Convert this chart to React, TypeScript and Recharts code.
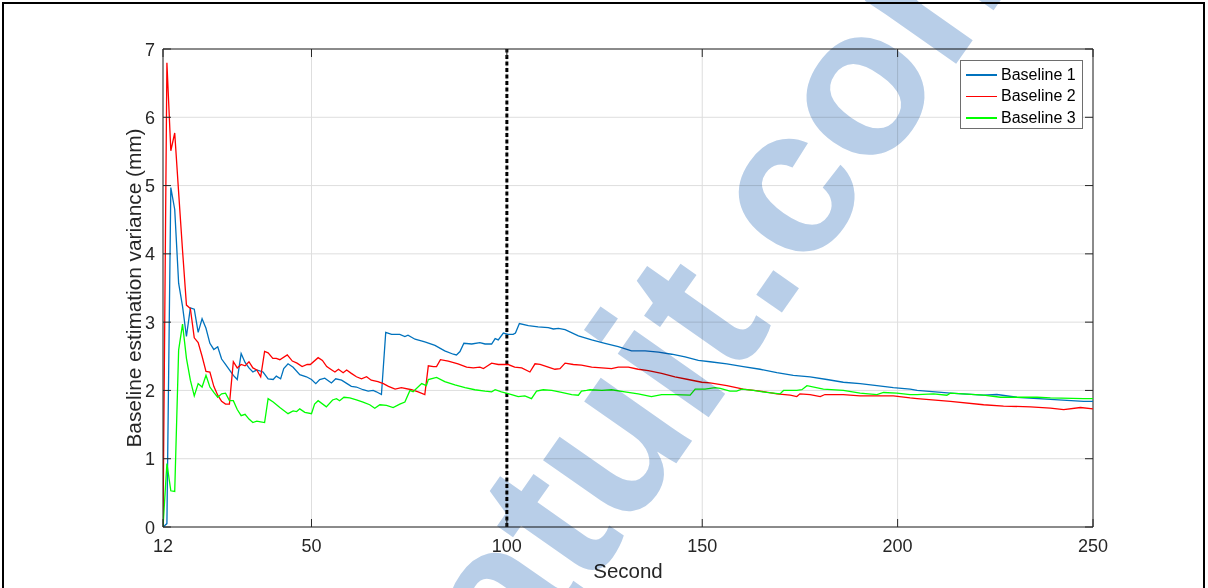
import { LineChart, Line, XAxis, YAxis, CartesianGrid, ReferenceLine } from 'recharts';

// time stamps (s) and values (mm), one pair of arrays per baseline
const b1Time = [12, 13, 14, 15, 16, 17, 18, 19, 20, 21, 22, 23, 24, 25, 26, 27, 28, 29, 30, 31, 32, 33, 34, 35, 36, 37.6, 38.9, 40.2, 41, 42.1, 42.9, 44, 45.3, 47, 48.7, 50, 51.1, 52.1, 53.4, 55.1, 56.2, 57.7, 59.1, 60.2, 61.5, 63.2, 64.5, 65.8, 66.6, 67.9, 69, 70.5, 72.6, 73.9, 74.7, 76.5, 79, 81.6, 84.1, 86.3, 87.1, 88, 89, 91, 93.1, 94.4, 96.1, 97, 97.8, 99.1, 100.3, 101.6, 102.2, 103.2, 105.5, 108, 110.6, 111.9, 113.2, 114.9, 118.3, 121.7, 125.1, 128.5, 131.9, 135.4, 138.8, 142.2, 145.6, 149, 152, 156.3, 160.5, 164.8, 169.1, 173.3, 177.6, 181.9, 186.1, 190.4, 194.7, 198.9, 203.2, 205, 213.5, 222, 225.4, 230.5, 239.1, 247.6, 250];
const b1Value = [0, 0.05, 4.97, 4.65, 3.57, 3.23, 2.79, 3.21, 3.19, 2.85, 3.05, 2.91, 2.69, 2.6, 2.64, 2.46, 2.38, 2.3, 2.22, 2.16, 2.54, 2.41, 2.33, 2.27, 2.3, 2.27, 2.17, 2.16, 2.21, 2.17, 2.32, 2.39, 2.34, 2.23, 2.2, 2.16, 2.1, 2.16, 2.18, 2.11, 2.17, 2.15, 2.1, 2.06, 2.05, 2.01, 1.99, 2.0, 1.98, 1.94, 2.85, 2.82, 2.82, 2.79, 2.81, 2.75, 2.71, 2.66, 2.58, 2.53, 2.52, 2.57, 2.69, 2.68, 2.7, 2.68, 2.68, 2.76, 2.74, 2.84, 2.82, 2.82, 2.84, 2.98, 2.95, 2.93, 2.92, 2.9, 2.91, 2.89, 2.8, 2.74, 2.69, 2.64, 2.58, 2.58, 2.56, 2.53, 2.49, 2.44, 2.42, 2.39, 2.35, 2.31, 2.26, 2.22, 2.2, 2.16, 2.12, 2.1, 2.07, 2.04, 2.02, 2.0, 1.96, 1.93, 1.94, 1.9, 1.87, 1.84, 1.84];

const b2Time = [12, 13, 14, 15, 16, 17, 18, 19, 20, 21, 22, 23, 24, 25, 26, 27, 28, 29, 30, 31, 32, 33, 34, 35, 36, 37, 38, 38.9, 40.1, 41, 41.9, 43.8, 45.1, 46.3, 47.6, 48.9, 49.7, 51.7, 52.8, 53.9, 55.2, 56, 56.9, 58.1, 59, 60.2, 61.5, 62.8, 64.1, 65.3, 67, 68.4, 69.7, 71.4, 73, 75.6, 77.3, 79, 79.9, 81.2, 82, 83, 85, 87.5, 89.7, 91.4, 93.1, 94, 94.8, 96.1, 97.8, 100.3, 102, 103.8, 105.9, 107.2, 108.5, 110.6, 112.3, 113.6, 114.9, 117, 119.1, 121.7, 124.3, 126.8, 128.5, 131.1, 133.6, 136.2, 139.6, 143, 146.4, 149.9, 152, 156.3, 160.5, 164.8, 169.1, 172.5, 174.2, 175, 177.6, 180.2, 181.4, 186.1, 190.4, 194.7, 198.9, 203.2, 205, 213.5, 222, 227.1, 234, 239.1, 242.5, 246.8, 250];
const b2Value = [0, 6.8, 5.51, 5.77, 4.9, 4.05, 3.25, 3.2, 2.77, 2.7, 2.5, 2.28, 2.27, 2.06, 1.93, 1.84, 1.8, 1.8, 2.42, 2.33, 2.38, 2.36, 2.42, 2.33, 2.3, 2.2, 2.57, 2.55, 2.47, 2.47, 2.45, 2.52, 2.43, 2.4, 2.35, 2.38, 2.38, 2.48, 2.44, 2.35, 2.3, 2.27, 2.31, 2.26, 2.3, 2.25, 2.2, 2.17, 2.2, 2.15, 2.13, 2.1, 2.06, 2.02, 2.04, 2.01, 1.98, 1.94, 2.36, 2.35, 2.35, 2.45, 2.43, 2.39, 2.34, 2.33, 2.34, 2.32, 2.35, 2.4, 2.38, 2.38, 2.34, 2.33, 2.27, 2.39, 2.38, 2.34, 2.31, 2.32, 2.4, 2.38, 2.37, 2.34, 2.33, 2.32, 2.34, 2.34, 2.31, 2.29, 2.25, 2.2, 2.16, 2.12, 2.11, 2.07, 2.02, 1.99, 1.95, 1.93, 1.91, 1.95, 1.94, 1.91, 1.94, 1.94, 1.92, 1.92, 1.92, 1.89, 1.88, 1.84, 1.79, 1.77, 1.76, 1.74, 1.72, 1.75, 1.73];

const b3Time = [12, 13, 14, 15, 16, 17, 18, 19, 20, 21, 22, 23, 24, 25, 26, 27, 28, 29, 30, 31, 32, 33, 34, 35, 36, 37, 38, 38.9, 40.2, 41.9, 44, 45.3, 46.2, 47, 48.3, 50, 50.8, 51.7, 53.8, 55.4, 56.4, 57.2, 58.3, 59.8, 61.5, 63.2, 64.9, 66.2, 67.5, 69.2, 70.9, 72.6, 73.9, 75.2, 76, 78.2, 79.4, 79.9, 82, 84.1, 86.7, 89.3, 91.8, 94.4, 96.1, 97, 98.6, 101.2, 102.9, 104.6, 106.3, 107.6, 109.3, 111.5, 114, 116.6, 118.3, 119.1, 120.4, 121.3, 124.3, 126.8, 130.2, 133.6, 137, 139.6, 143, 146.9, 148.2, 150.7, 153.3, 154.6, 157.1, 158.8, 160.1, 163.1, 166.5, 169.9, 170.8, 174.2, 175.5, 176.8, 181, 186.1, 190.4, 194.7, 196.4, 199.8, 203.2, 205, 209.2, 212.6, 213.5, 222, 226.3, 230.5, 235.7, 239.1, 247.6, 250];
const b3Value = [0, 0.93, 0.53, 0.52, 2.59, 2.97, 2.47, 2.15, 1.92, 2.1, 2.05, 2.22, 2.05, 1.97, 1.9, 1.95, 1.96, 1.85, 1.85, 1.72, 1.63, 1.65, 1.58, 1.53, 1.55, 1.54, 1.53, 1.88, 1.83, 1.75, 1.66, 1.7, 1.69, 1.73, 1.68, 1.66, 1.8, 1.85, 1.76, 1.86, 1.88, 1.85, 1.9, 1.89, 1.86, 1.83, 1.79, 1.74, 1.79, 1.78, 1.75, 1.8, 1.83, 2.0, 1.98, 2.1, 2.07, 2.16, 2.19, 2.13, 2.08, 2.04, 2.01, 1.99, 1.98, 2.01, 1.98, 1.94, 1.91, 1.92, 1.88, 1.99, 2.01, 2.0, 1.97, 1.94, 1.93, 1.99, 2.0, 2.01, 2.0, 2.01, 1.98, 1.95, 1.91, 1.94, 1.94, 1.93, 2.02, 2.02, 2.04, 2.03, 1.99, 1.99, 2.02, 2.0, 1.97, 1.95, 2.0, 2.0, 2.01, 2.07, 2.02, 2.0, 1.96, 1.94, 1.97, 1.96, 1.94, 1.94, 1.95, 1.93, 1.96, 1.93, 1.9, 1.9, 1.9, 1.89, 1.88, 1.88];

const xTicks = [12, 50, 100, 150, 200, 250];
const yTicks = [0, 1, 2, 3, 4, 5, 6, 7];
const seriesNames = ['Baseline 1', 'Baseline 2', 'Baseline 3'];
const seriesColors = ['#0072BD', '#FF0000', '#00FF00'];

const toPoints = (ts: number[], vs: number[]) => ts.map((t, i) => ({ t, v: vs[i] }));
const series = [toPoints(b1Time, b1Value), toPoints(b2Time, b2Value), toPoints(b3Time, b3Value)];

const W = 1208;
const H = 588;
const PLOT = { left: 163, top: 49, right: 1093, bottom: 527 };
const AXIS = '#262626';
const FONT = '"Liberation Sans", Arial, Helvetica, sans-serif';

// MATLAB style: ticks point inward on all four sides of the box
const XTick = ({ x, payload }: any) => (
  <g>
    <line x1={x} x2={x} y1={PLOT.bottom} y2={PLOT.bottom - 8} stroke={AXIS} />
    <line x1={x} x2={x} y1={PLOT.top} y2={PLOT.top + 8} stroke={AXIS} />
    <text x={x} y={552} textAnchor="middle" fontSize={18} fill={AXIS} fontFamily={FONT}>{payload.value}</text>
  </g>
);

const YTick = ({ y, payload }: any) => (
  <g>
    <line x1={PLOT.left} x2={PLOT.left + 8} y1={y} y2={y} stroke={AXIS} />
    <line x1={PLOT.right} x2={PLOT.right - 8} y1={y} y2={y} stroke={AXIS} />
    <text x={155} y={y + 6.5} textAnchor="end" fontSize={18} fill={AXIS} fontFamily={FONT}>{payload.value}</text>
  </g>
);

// legend drawn on its own so it does not take room from the plot area
const LegendBox = () => (
  <div style={{ position: 'absolute', left: 960, top: 60, width: 123, height: 69, border: '1px solid #6e6e6e', background: '#fff', fontFamily: FONT, fontSize: 16, color: '#000', paddingTop: 3, boxSizing: 'border-box' }}>
    {seriesNames.map((name, i) => (
      <div key={name} style={{ display: 'flex', alignItems: 'center', height: 21.5 }}>
        <div style={{ width: 31, height: 1.5, background: seriesColors[i], marginLeft: 5, marginRight: 4 }} />
        <span>{name}</span>
      </div>
    ))}
  </div>
);

const App = () => {
  return (
    <div style={{ position: 'absolute', left: 0, top: 0, width: W, height: H, overflow: 'hidden', background: '#fff' }}>
      <LineChart width={W} height={H} margin={{ top: PLOT.top, right: W - PLOT.right, bottom: 31, left: PLOT.left - 60 }}>
        <CartesianGrid stroke="#dedede" strokeWidth={1} />
        <XAxis
          type="number"
          dataKey="t"
          domain={[12, 250]}
          ticks={xTicks}
          allowDataOverflow
          height={30}
          tickSize={0}
          stroke={AXIS}
          tick={<XTick />}
          label={{ content: () => <text x={628} y={578} textAnchor="middle" fontSize={20.5} fill={AXIS} fontFamily={FONT}>Second</text> }}
        />
        <YAxis
          type="number"
          domain={[0, 7]}
          ticks={yTicks}
          allowDataOverflow
          width={60}
          tickSize={0}
          stroke={AXIS}
          tick={<YTick />}
          label={{
            content: () => (
              <text x={141} y={288} transform="rotate(-90 141 288)" textAnchor="middle" fontSize={20.5} textLength={319} lengthAdjust="spacingAndGlyphs" fill={AXIS} fontFamily={FONT}>
                Baseline estimation variance (mm)
              </text>
            )
          }}
        />
        <ReferenceLine y={7} stroke={AXIS} strokeWidth={1} />
        <ReferenceLine x={250} stroke={AXIS} strokeWidth={1} />
        <ReferenceLine x={100} stroke="#000" strokeWidth={3} strokeDasharray="4 2.5" />
        {series.map((data, i) => (
          <Line
            key={seriesNames[i]}
            data={data}
            dataKey="v"
            name={seriesNames[i]}
            type="linear"
            stroke={seriesColors[i]}
            strokeWidth={1.3}
            dot={false}
            isAnimationActive={false}
          />
        ))}
      </LineChart>
      <LegendBox />

      {/* watermark over the figure */}
      <svg width={W} height={H} style={{ position: 'absolute', left: 0, top: 0, pointerEvents: 'none', mixBlendMode: 'multiply' }}>
        <g transform="translate(778 292) rotate(-55)">
          <text x={-1557} y={15} fontSize={210} fontWeight="bold" fill="#b8cee8" fontFamily={FONT}>Rapport-gratuit.com</text>
        </g>
      </svg>

      {/* black frame round the whole figure */}
      <div style={{ position: 'absolute', left: 2, top: 2, width: 1203, height: 700, border: '2px solid #000', boxSizing: 'border-box', pointerEvents: 'none' }} />
    </div>
  );
};

export default App;
